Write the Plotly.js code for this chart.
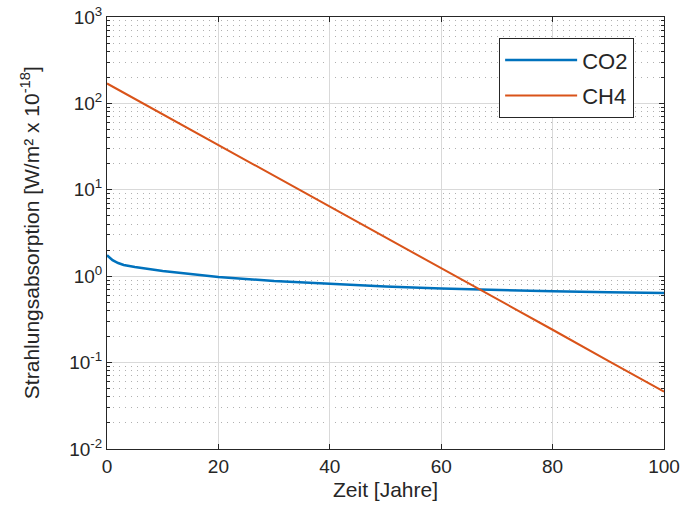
<!DOCTYPE html>
<html>
<head>
<meta charset="utf-8">
<script src="https://cdn.plot.ly/plotly-3.0.1.min.js"></script>
<style>html,body{margin:0;padding:0;background:#fff;}#chart{width:688px;height:519px;}</style>
</head>
<body>
<div id="chart"></div>
<script>
// Data
const co2Years = [0, 1, 2, 3, 5, 10, 15, 20, 30, 40, 50, 60, 70, 80, 90, 100];
const co2Values = [1.75, 1.53, 1.42, 1.35, 1.28, 1.15, 1.06, 0.98, 0.88, 0.81, 0.76, 0.72, 0.69, 0.67, 0.65, 0.64];
const ch4Years = [0, 10, 20, 30, 40, 50, 60, 70, 80, 90, 100];
const ch4Values = [170, 75, 33, 14.5, 6.4, 2.8, 1.25, 0.55, 0.24, 0.105, 0.046];
const xTicks = [0, 20, 40, 60, 80, 100];
const yTickVals = [0.01, 0.1, 1, 10, 100, 1000];
const yTickText = ['10<sup>-2</sup>', '10<sup>-1</sup>', '10<sup>0</sup>', '10<sup>1</sup>', '10<sup>2</sup>', '10<sup>3</sup>'];

const minorVals = [];
for (let d = 0; d < yTickVals.length - 1; d++) {
  for (let m = 2; m <= 9; m++) minorVals.push(yTickVals[d] * m);
}

const axisColor = '#262626';
const font = {family: 'Liberation Sans, Arial, sans-serif', color: axisColor};

const traces = [
  {x: co2Years, y: co2Values, name: 'CO2', legendgroup: 'a', mode: 'lines', line: {color: '#0072BD', width: 2.5}},
  {x: ch4Years, y: ch4Values, name: 'CH4', legendgroup: 'b', mode: 'lines', line: {color: '#D95319', width: 2}}
];

const layout = {
  width: 688, height: 519,
  margin: {l: 107, r: 24, t: 17, b: 70},
  paper_bgcolor: '#fff', plot_bgcolor: '#fff',
  font: Object.assign({size: 18}, font),
  showlegend: true,
  legend: {
    x: 0.704, y: 0.951, xanchor: 'left', yanchor: 'top',
    bgcolor: '#fff', bordercolor: axisColor, borderwidth: 1,
    font: Object.assign({size: 22}, font),
    traceorder: 'grouped', tracegroupgap: 4, itemwidth: 72
  },
  xaxis: {
    range: [0, 100], tickvals: xTicks, ticks: 'inside', ticklen: 5, tickcolor: axisColor,
    showline: true, linecolor: axisColor, linewidth: 1, mirror: 'ticks',
    showgrid: true, gridcolor: '#d9d9d9', gridwidth: 1, zeroline: false,
    tickfont: Object.assign({size: 19}, font),
    title: {text: 'Zeit [Jahre]', font: Object.assign({size: 21}, font), standoff: 6}
  },
  yaxis: {
    type: 'log', range: [-2, 3], tickvals: yTickVals, ticktext: yTickText,
    ticks: 'inside', ticklen: 5, tickcolor: axisColor,
    showline: true, linecolor: axisColor, linewidth: 1, mirror: 'ticks',
    showgrid: true, gridcolor: '#d9d9d9', gridwidth: 1, zeroline: false,
    tickfont: Object.assign({size: 19}, font),
    minor: {tickvals: minorVals, ticks: 'inside', ticklen: 3, tickcolor: axisColor,
            showgrid: true, gridcolor: '#b0b0b0', griddash: '1px,5px', gridwidth: 1}
  },
  annotations: [{
    text: 'Strahlungsabsorption [W/m² x 10<sup>-18</sup>]',
    xref: 'paper', yref: 'paper', x: -0.138, y: 0.5, xanchor: 'center', yanchor: 'middle',
    textangle: -90, showarrow: false, font: Object.assign({size: 21}, font)
  }]
};

Plotly.newPlot('chart', traces, layout, {displayModeBar: false, staticPlot: true});
</script>
</body>
</html>
